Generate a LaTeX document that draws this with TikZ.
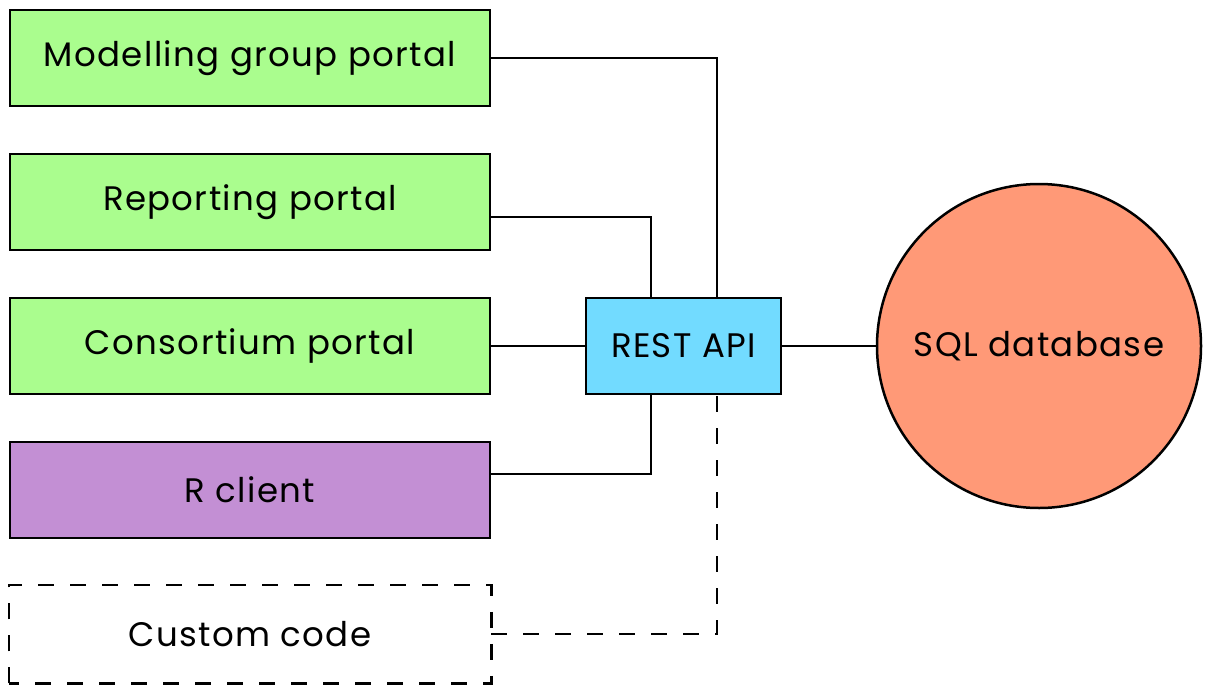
\documentclass[tikz,border=0pt]{standalone}
\usepackage{fontspec}
\setmainfont{Poppins}[LetterSpace=4]
\begin{document}
\begin{tikzpicture}[x=1pt,y=-1pt,
  box/.style={draw=black,line width=2.5pt,minimum width=480pt,minimum height=96pt,inner sep=0pt,font=\fontsize{34}{38}\selectfont},
  conn/.style={line width=2pt},
  dashconn/.style={line width=2.5pt,dash pattern=on 16pt off 16pt}]
\useasboundingbox (0,0) rectangle (1212,693);
\definecolor{cgreen}{HTML}{AAFD8E}
\definecolor{cblue}{HTML}{72DBFF}
\definecolor{cpurple}{HTML}{C38FD4}
\definecolor{csalmon}{HTML}{FF9977}
\node[box,fill=cgreen] (mg) at (250,58) {Modelling group portal};
\node[box,fill=cgreen] (rp) at (250,202) {Reporting portal};
\node[box,fill=cgreen] (cp) at (250,346) {Consortium portal};
\node[box,fill=cpurple] (rc) at (250,490) {R client};
\node[box,draw=none] (cc) at (250,634) {Custom code};
\draw[dashconn] (cc.south west) rectangle (cc.north east);
\node[box,fill=cblue,minimum width=195pt] (api) at (683.5,346) {REST API};
\node[draw=black,line width=2.5pt,circle,fill=csalmon,minimum size=324pt,inner sep=0pt,font=\fontsize{34}{38}\selectfont] (db) at (1039,346) {SQL database};
\coordinate (apiA) at (717,298);
\coordinate (apiB) at (651,298);
\coordinate (apiC) at (651,394);
\coordinate (apiD) at (717,394);
\draw[conn] (mg.east) -- (717,58) -- (apiA);
\draw[conn] (490,217) -- (651,217) -- (apiB);
\draw[conn] (cp.east) -- (api.west);
\draw[conn] (490,474) -- (651,474) -- (apiC);
\draw[dashconn] (cc.east) -- (717,634) -- (apiD);
\draw[conn] (api.east) -- (db.west);
\end{tikzpicture}
\end{document}
